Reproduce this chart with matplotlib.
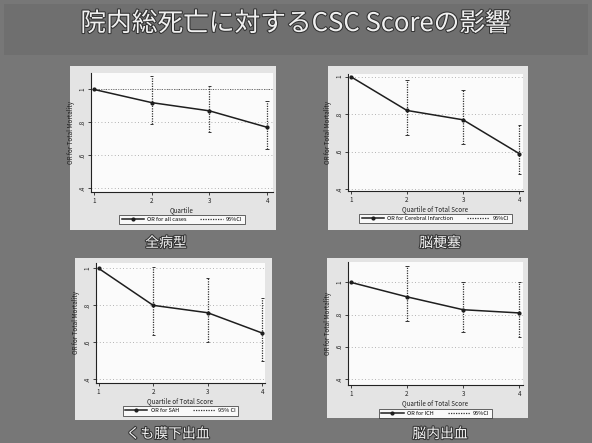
import matplotlib
matplotlib.use("Agg")
import matplotlib.pyplot as plt
import matplotlib.patheffects as pe
from matplotlib.patches import Rectangle

plt.rcParams["font.family"] = ["Noto Sans CJK JP", "DejaVu Sans"]

W, H = 592, 443

title = "院内総死亡に対するCSC Scoreの影響"
quartiles = [1, 2, 3, 4]
ytick_vals = [0.4, 0.6, 0.8, 1.0]
ytick_labels = [".4", ".6", ".8", "1"]

panel_names = ["全病型", "脳梗塞", "くも膜下出血", "脳内出血"]
xlabels = ["Quartile", "Quartile of Total Score", "Quartile of Total Score", "Quartile of Total Score"]
legend_or = ["OR for all cases", "OR for Cerebral Infarction", "OR for SAH", "OR for ICH"]
legend_ci = ["95%CI", "95%CI", "95% CI", "95%CI"]

or_all = [1.0, 0.92, 0.87, 0.77]
lo_all = [1.0, 0.79, 0.74, 0.64]
hi_all = [1.0, 1.08, 1.02, 0.93]

or_ci = [1.0, 0.82, 0.77, 0.59]
lo_ci = [1.0, 0.69, 0.64, 0.48]
hi_ci = [1.0, 0.98, 0.93, 0.74]

or_sah = [1.0, 0.80, 0.76, 0.65]
lo_sah = [1.0, 0.64, 0.60, 0.50]
hi_sah = [1.0, 1.01, 0.95, 0.84]

or_ich = [1.0, 0.91, 0.83, 0.81]
lo_ich = [1.0, 0.76, 0.69, 0.66]
hi_ich = [1.0, 1.10, 1.00, 1.00]

series = [(or_all, lo_all, hi_all), (or_ci, lo_ci, hi_ci),
          (or_sah, lo_sah, hi_sah), (or_ich, lo_ich, hi_ich)]

# pixel layout: outer panel box, axes box, axis limits, label centre
panels = [
    dict(box=(70, 66, 276, 230), ax=(91, 73, 273, 192), xlim=(0.948, 4.10), ylim=(0.377, 1.10), label=(166, 243)),
    dict(box=(328, 66, 528, 230), ax=(348, 74, 523, 191), xlim=(0.952, 4.066), ylim=(0.391, 1.014), label=(440, 243)),
    dict(box=(75, 258, 272, 420), ax=(96, 263, 265, 383), xlim=(0.952, 4.05), ylim=(0.38, 1.029), label=(168, 434)),
    dict(box=(327, 258, 528, 418), ax=(348, 262, 523, 385), xlim=(0.952, 4.066), ylim=(0.363, 1.126), label=(440, 434)),
]


def frac_rect(x0, y0, x1, y1):
    return [x0 / W, 1 - y1 / H, (x1 - x0) / W, (y1 - y0) / H]


fig = plt.figure(figsize=(W / 100, H / 100), dpi=100, facecolor="#777777")

# title band
fig.patches.append(Rectangle((4 / W, 1 - 55 / H), 584 / W, 51 / H, transform=fig.transFigure,
                             facecolor="#6f6f6f", edgecolor="none", zorder=-10))
fig.text(0.5, 1 - 24 / H, title, ha="center", va="center", fontsize=18.5, color="#f0f0f0",
         path_effects=[pe.withStroke(linewidth=1.5, foreground="#333333")])

for i, p in enumerate(panels):
    bx0, by0, bx1, by1 = p["box"]
    fig.patches.append(Rectangle((bx0 / W, 1 - by1 / H), (bx1 - bx0) / W, (by1 - by0) / H,
                                 transform=fig.transFigure, facecolor="#e4e4e4", edgecolor="none",
                                 zorder=-10))
    ax = fig.add_axes(frac_rect(*p["ax"]))
    ax.set_facecolor("#fbfbfb")
    orv, lo, hi = series[i]

    ax.plot(quartiles, orv, color="#1e1e1e", linewidth=1.1, marker="o", markersize=2,
            label=legend_or[i], zorder=3)
    ax.vlines(quartiles[1:], lo[1:], hi[1:], colors="#333333", linestyles=(0, (1, 1)),
              linewidth=0.9, label=legend_ci[i], zorder=2)
    ax.hlines(lo[1:], [q - 0.03 for q in quartiles[1:]], [q + 0.03 for q in quartiles[1:]],
              colors="#333333", linewidth=0.7)
    ax.hlines(hi[1:], [q - 0.03 for q in quartiles[1:]], [q + 0.03 for q in quartiles[1:]],
              colors="#333333", linewidth=0.7)

    ax.set_xlim(*p["xlim"])
    ax.set_ylim(*p["ylim"])
    ax.set_xticks(quartiles)
    ax.set_xticklabels([str(q) for q in quartiles])
    ax.set_yticks(ytick_vals)
    ax.set_yticklabels(ytick_labels, rotation=90, va="center")
    ax.tick_params(labelsize=4.5, length=2, width=0.6, pad=1.5, colors="#222222")
    ax.grid(True, axis="y", linestyle=(0, (1, 3)), color="#9a9a9a", linewidth=0.6)
    if i == 0:
        ax.axhline(1.0, color="#555555", linestyle=(0, (1, 1.5)), linewidth=0.7, zorder=1)
    for side in ("top", "right"):
        ax.spines[side].set_visible(False)
    for side in ("left", "bottom"):
        ax.spines[side].set_linewidth(0.8)
        ax.spines[side].set_color("#222222")

    ax.set_xlabel(xlabels[i], fontsize=4.5, labelpad=1, color="#222222")
    ax.set_ylabel("OR for Total Mortality", fontsize=4.5, labelpad=2, color="#222222")

    leg = ax.legend(loc="upper center", bbox_to_anchor=(0.5, -0.17), ncol=2, fontsize=4,
                    frameon=True, fancybox=False, edgecolor="#222222", handlelength=4,
                    borderpad=0.4, columnspacing=2.5, handletextpad=0.6)
    leg.get_frame().set_linewidth(0.6)

    lx, ly = p["label"]
    fig.text(lx / W, 1 - ly / H, panel_names[i], ha="center", va="center", fontsize=10,
             color="#f4f4f4", path_effects=[pe.withStroke(linewidth=1.5, foreground="#333333")])

fig.savefig("out.png", dpi=100, facecolor=fig.get_facecolor())
